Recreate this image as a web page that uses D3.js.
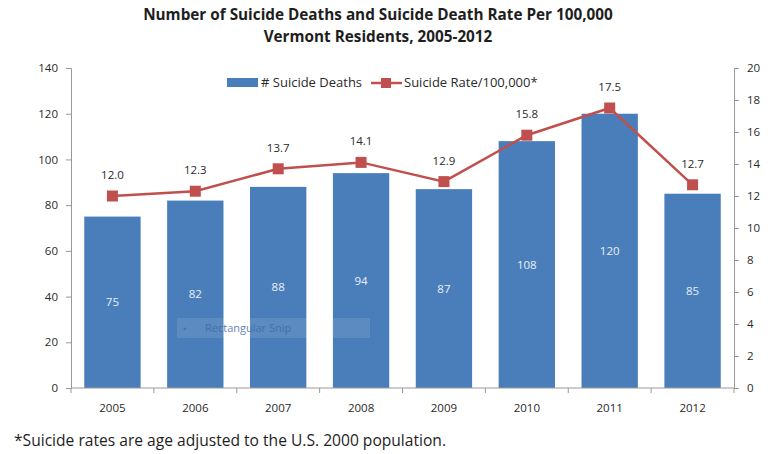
<!DOCTYPE html>
<html><head><meta charset="utf-8">
<script src="https://cdn.jsdelivr.net/npm/d3@7"></script>
<style>body{margin:0;background:#fff;} svg{display:block;font-family:"Open Sans",Lato,sans-serif;}</style>
</head><body><svg id="c" width="778" height="454"></svg>
<script>
const years = ["2005","2006","2007","2008","2009","2010","2011","2012"];
const deaths = [75,82,88,94,87,108,120,85];
const rates = [12.0,12.3,13.7,14.1,12.9,15.8,17.5,12.7];
const leftTicks = [0,20,40,60,80,100,120,140];
const rightTicks = [0,2,4,6,8,10,12,14,16,18,20];
const titleLines = ["Number of Suicide Deaths and Suicide Death Rate Per 100,000","Vermont Residents, 2005-2012"];
const footnote = "*Suicide rates are age adjusted to the U.S. 2000 population.";

const svg = d3.select("#c");
const L=71, R=734, T=68, B=388;
const barColor="#4a7ebb", lineColor="#c0504d", axisColor="#999", textColor="#2a2a2a";
const FONT = "'Open Sans',Lato,sans-serif";

const x = d3.scaleBand().domain(years).range([L,R]).paddingInner(0.32).paddingOuter(0.16);
const yL = d3.scaleLinear().domain([0,140]).range([B,T]);
const yR = d3.scaleLinear().domain([0,20]).range([B,T]);

// title
svg.selectAll("text.title").data(titleLines).join("text")
  .attr("x",378).attr("y",(d,i)=>20+i*22).attr("text-anchor","middle")
  .attr("font-weight","bold").attr("font-size",15.3).attr("fill","#1e1e1e").text(d=>d);

// bars
svg.selectAll("rect.bar").data(deaths).join("rect")
  .attr("x",(d,i)=>x(years[i])).attr("width",x.bandwidth())
  .attr("y",d=>yL(d)).attr("height",d=>B-yL(d)).attr("fill",barColor);

// bar labels
svg.selectAll("text.bl").data(deaths).join("text")
  .attr("x",(d,i)=>x(years[i])+x.bandwidth()/2).attr("y",d=>yL(d/2)+4)
  .attr("text-anchor","middle").attr("font-size",11.5).attr("fill","#e8eef8").text(d=>d);

// snip artifact
svg.append("rect").attr("x",177).attr("y",318).attr("width",193).attr("height",20)
  .attr("fill","#fff").attr("opacity",0.1);
svg.append("text").attr("x",183).attr("y",332).attr("font-size",9).attr("fill","#3d6aa5").attr("opacity",0.7).text("▪");
svg.append("text").attr("x",205).attr("y",332).attr("font-size",11).attr("fill","#3d6aa5").attr("opacity",0.8).text("Rectangular Snip");

// axes
const axL = d3.axisLeft(yL).tickValues(leftTicks).tickSize(5).tickPadding(8);
const gL = svg.append("g").attr("transform",`translate(${L},0)`).call(axL);
const axR = d3.axisRight(yR).tickValues(rightTicks).tickSize(5).tickPadding(8);
const gR = svg.append("g").attr("transform",`translate(${R},0)`).call(axR);
const axX = d3.axisBottom(x).tickSize(0).tickPadding(16);
const gX = svg.append("g").attr("transform",`translate(0,${B})`).call(axX);
[gL,gR,gX].forEach(g=>{
  g.select(".domain").attr("stroke",axisColor);
  g.selectAll(".tick line").attr("stroke",axisColor);
  g.selectAll("text").attr("font-size",11.5).attr("fill",textColor).attr("font-family",FONT);
});
gX.select(".domain").attr("d",`M${L},0H${R}`);
// x boundary ticks
const bounds = years.map(y=>x(y)-x.step()*x.paddingInner()/2).concat([R]);
svg.selectAll("line.xt").data(bounds).join("line")
  .attr("x1",d=>d).attr("x2",d=>d).attr("y1",B).attr("y2",B+5).attr("stroke",axisColor);

// line
const cx = (i)=>x(years[i])+x.bandwidth()/2;
svg.append("path").datum(rates)
  .attr("d",d3.line().x((d,i)=>cx(i)).y(d=>yR(d)))
  .attr("fill","none").attr("stroke",lineColor).attr("stroke-width",2.5);
svg.selectAll("rect.m").data(rates).join("rect")
  .attr("x",(d,i)=>cx(i)-5.5).attr("y",d=>yR(d)-5.5).attr("width",11).attr("height",11)
  .attr("fill",lineColor);
svg.selectAll("text.rl").data(rates).join("text")
  .attr("x",(d,i)=>cx(i)).attr("y",d=>yR(d)-17)
  .attr("text-anchor","middle").attr("font-size",11.5).attr("fill",textColor).text(d=>d.toFixed(1));

// legend
svg.append("rect").attr("x",227).attr("y",78).attr("width",31).attr("height",9).attr("fill",barColor);
svg.append("text").attr("x",261).attr("y",87).attr("font-size",13).attr("fill",textColor).text("# Suicide Deaths");
svg.append("line").attr("x1",371).attr("x2",402).attr("y1",83).attr("y2",83).attr("stroke",lineColor).attr("stroke-width",2.5);
svg.append("rect").attr("x",381).attr("y",78).attr("width",10).attr("height",10).attr("fill",lineColor);
svg.append("text").attr("x",404).attr("y",87).attr("font-size",13).attr("fill",textColor).text("Suicide Rate/100,000*");

// footnote
svg.append("text").attr("x",14).attr("y",446).attr("font-size",15.6).attr("fill","#1e1e1e").text(footnote);
</script></body></html>
